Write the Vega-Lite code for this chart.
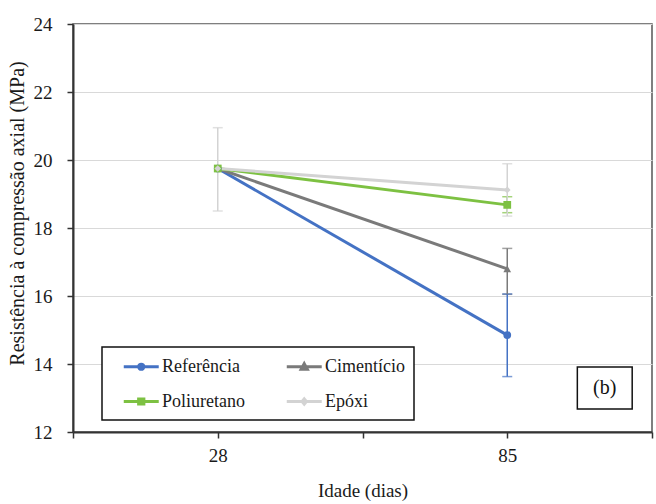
{
  "$schema": "https://vega.github.io/schema/vega-lite/v6.json",
  "width": 579,
  "height": 408,
  "autosize": "none",
  "padding": {"left": 73, "top": 24, "right": 4, "bottom": 72},
  "background": "white",
  "config": {
    "view": {"stroke": "#555555", "strokeWidth": 1.5},
    "font": "Liberation Serif",
    "axis": {
      "labelFont": "Liberation Serif",
      "titleFont": "Liberation Serif",
      "labelFontSize": 19,
      "titleFontSize": 19,
      "labelColor": "#1a1a1a",
      "titleColor": "#1a1a1a",
      "titleFontWeight": "normal",
      "domainColor": "#333333",
      "domainWidth": 2,
      "tickColor": "#333333",
      "tickWidth": 1.5,
      "tickSize": 6
    }
  },
  "datasets": {
    "main": [
      {"serie": "Referência", "idade": 28, "valor": 19.75, "lo": null, "hi": null},
      {"serie": "Referência", "idade": 85, "valor": 14.85, "lo": 13.63, "hi": 16.06},
      {"serie": "Cimentício", "idade": 28, "valor": 19.75, "lo": null, "hi": null},
      {"serie": "Cimentício", "idade": 85, "valor": 16.8, "lo": 16.05, "hi": 17.4},
      {"serie": "Poliuretano", "idade": 28, "valor": 19.75, "lo": null, "hi": null},
      {"serie": "Poliuretano", "idade": 85, "valor": 18.68, "lo": 18.45, "hi": 18.92},
      {"serie": "Epóxi", "idade": 28, "valor": 19.75, "lo": 18.5, "hi": 20.95},
      {"serie": "Epóxi", "idade": 85, "valor": 19.12, "lo": 18.35, "hi": 19.89}
    ],
    "tag": [
      {"label": "(b)", "x1": 98.8, "x2": 109.6, "y1": 12.68, "y2": 13.91, "xm": 104.2, "ym": 13.3}
    ]
  },
  "layer": [
    {
      "data": {"name": "main"},
      "mark": {"type": "errorbar", "ticks": true, "thickness": 1.5, "size": 10},
      "encoding": {
        "x": {"field": "idade", "type": "quantitative",
              "scale": {"domain": [-0.5, 113.5], "nice": false, "zero": false},
              "axis": {"values": [-0.5, 28, 56.5, 85, 113.5], "grid": false,
                       "labelExpr": "datum.value == 28 || datum.value == 85 ? datum.label : ''",
                       "title": "Idade (dias)", "labelPadding": 8, "titlePadding": 16}},
        "y": {"field": "lo", "type": "quantitative",
              "scale": {"domain": [12, 24], "nice": false, "zero": false},
              "axis": {"values": [12, 14, 16, 18, 20, 22, 24], "grid": true, "gridColor": "#d9d9d9", "gridWidth": 1.2,
                       "title": "Resistência à compressão axial (MPa)", "titleFontSize": 20, "titleY": 189,
                       "labelPadding": 15, "titlePadding": 6}},
        "y2": {"field": "hi"},
        "color": {"field": "serie", "type": "nominal"}
      }
    },
    {
      "data": {"name": "main"},
      "mark": {"type": "line", "strokeWidth": 3},
      "encoding": {
        "x": {"field": "idade", "type": "quantitative"},
        "y": {"field": "valor", "type": "quantitative"},
        "color": {"field": "serie", "type": "nominal",
                  "scale": {"domain": ["Referência", "Cimentício", "Poliuretano", "Epóxi"],
                            "range": ["#4472C4", "#7a7a7a", "#7dc142", "#d3d3d3"]},
                  "legend": {
                    "title": null, "orient": "none", "legendX": 29, "legendY": 323,
                    "direction": "horizontal", "columns": 2,
                    "symbolSize": 306, "symbolStrokeWidth": 3,
                    "labelFont": "Liberation Serif", "labelFontSize": 18, "labelColor": "#1a1a1a",
                    "labelOffset": 19, "symbolOffset": 11, "padding": 9,
                    "rowPadding": 15, "columnPadding": 29,
                    "strokeColor": "#111111", "fillColor": "#ffffff",
                    "encode": {
                      "legend": {"update": {"strokeWidth": {"value": 1.5}}},
                      "symbols": {"update": {
                        "shape": {"signal": "datum.value === 'Referência' ? 'M-1,0H3M1.3,0A0.3,0.3,0,1,1,0.7,0A0.3,0.3,0,1,1,1.3,0Z' : datum.value === 'Cimentício' ? 'M-1,0H3M1,-0.35L1.35,0.28L0.65,0.28Z' : datum.value === 'Poliuretano' ? 'M-1,0H3M0.7,-0.3H1.3V0.3H0.7Z' : 'M-1,0H3M1,-0.3L1.25,0L1,0.3L0.75,0Z'"},
                        "fill": {"signal": "scale('color', datum.value)"},
                        "stroke": {"signal": "scale('color', datum.value)"},
                        "strokeWidth": {"value": 3},
                        "opacity": {"value": 1}
                      }}
                    }
                  }}
      }
    },
    {
      "data": {"name": "main"},
      "transform": [{"filter": "datum.serie === 'Referência'"}],
      "mark": {"type": "point", "filled": true, "opacity": 1, "shape": "circle", "size": 60},
      "encoding": {
        "x": {"field": "idade", "type": "quantitative"},
        "y": {"field": "valor", "type": "quantitative"},
        "color": {"field": "serie", "type": "nominal"}
      }
    },
    {
      "data": {"name": "main"},
      "transform": [{"filter": "datum.serie === 'Cimentício'"}],
      "mark": {"type": "point", "filled": true, "opacity": 1, "shape": "triangle-up", "size": 60},
      "encoding": {
        "x": {"field": "idade", "type": "quantitative"},
        "y": {"field": "valor", "type": "quantitative"},
        "color": {"field": "serie", "type": "nominal"}
      }
    },
    {
      "data": {"name": "main"},
      "transform": [{"filter": "datum.serie === 'Poliuretano'"}],
      "mark": {"type": "point", "filled": true, "opacity": 1, "shape": "square", "size": 60},
      "encoding": {
        "x": {"field": "idade", "type": "quantitative"},
        "y": {"field": "valor", "type": "quantitative"},
        "color": {"field": "serie", "type": "nominal"}
      }
    },
    {
      "data": {"name": "main"},
      "transform": [{"filter": "datum.serie === 'Epóxi'"}],
      "mark": {"type": "point", "filled": true, "opacity": 1, "shape": "diamond", "size": 45},
      "encoding": {
        "x": {"field": "idade", "type": "quantitative"},
        "y": {"field": "valor", "type": "quantitative"},
        "color": {"field": "serie", "type": "nominal"}
      }
    },
    {
      "data": {"name": "tag"},
      "mark": {"type": "rect", "fill": "white", "stroke": "#111111", "strokeWidth": 1.5},
      "encoding": {
        "x": {"field": "x1", "type": "quantitative"},
        "x2": {"field": "x2"},
        "y": {"field": "y1", "type": "quantitative"},
        "y2": {"field": "y2"}
      }
    },
    {
      "data": {"name": "tag"},
      "mark": {"type": "text", "font": "Liberation Serif", "fontSize": 20, "color": "#111111", "baseline": "middle", "align": "center"},
      "encoding": {
        "x": {"field": "xm", "type": "quantitative"},
        "y": {"field": "ym", "type": "quantitative"},
        "text": {"field": "label"}
      }
    }
  ]
}
